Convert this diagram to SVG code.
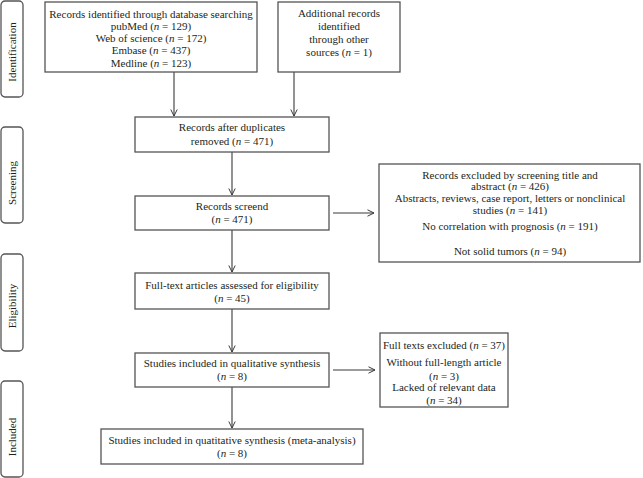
<svg xmlns="http://www.w3.org/2000/svg" width="643" height="478" viewBox="0 0 643 478">
<defs>
<marker id="ah" viewBox="0 0 8 8" refX="7.5" refY="4" markerWidth="8" markerHeight="8" markerUnits="userSpaceOnUse" orient="auto">
<path d="M1,0.8 L7.5,4 L1,7.2" fill="none" stroke="#3a3a3a" stroke-width="1"/>
</marker>
<style>
.box{fill:#fff;stroke:#555;stroke-width:1.3}
.side{fill:#fff;stroke:#555;stroke-width:1.3}
text{font-family:"Liberation Serif","Times New Roman",serif;font-size:11px;fill:#231f20;text-anchor:middle}
.c{stroke:#3a3a3a;stroke-width:1.1;fill:none;marker-end:url(#ah)}
</style>
</defs>
<rect width="643" height="478" fill="#fff"/>

<g id="side-identification"><rect class="side" x="1" y="1" width="22" height="96" rx="4"/><text transform="translate(15.5,52) rotate(-90)">Identification</text></g>
<g id="side-screening"><rect class="side" x="1" y="127" width="22" height="96" rx="4"/><text transform="translate(15.5,183) rotate(-90)">Screening</text></g>
<g id="side-eligibility"><rect class="side" x="1" y="254" width="22" height="97" rx="4"/><text transform="translate(15.5,306) rotate(-90)">Eligibility</text></g>
<g id="side-included"><rect class="side" x="1" y="381" width="22" height="96" rx="4"/><text transform="translate(15.5,437) rotate(-90)">Included</text></g>

<g id="connectors">
<line class="c" x1="174" y1="72" x2="174" y2="116"/>
<line class="c" x1="294" y1="72" x2="294" y2="116"/>
<line class="c" x1="232" y1="152" x2="232" y2="195"/>
<line class="c" x1="232" y1="230" x2="232" y2="272"/>
<line class="c" x1="232" y1="309" x2="232" y2="352"/>
<line class="c" x1="232" y1="387" x2="232" y2="428"/>
<line class="c" x1="333" y1="213" x2="374" y2="213"/>
<line class="c" x1="333" y1="370" x2="375" y2="370"/>
</g>

<g id="n-database"><rect class="box" x="45" y="2" width="212" height="70"/>
<text x="151" y="17.5">Records identified through database searching</text>
<text x="151" y="30">pubMed (<tspan font-style="italic">n</tspan> = 129)</text>
<text x="151" y="42">Web of science (<tspan font-style="italic">n</tspan> = 172)</text>
<text x="151" y="54">Embase (<tspan font-style="italic">n</tspan> = 437)</text>
<text x="151" y="66.5">Medline (<tspan font-style="italic">n</tspan> = 123)</text>
</g>

<g id="n-other"><rect class="box" x="278" y="2" width="122" height="70"/>
<text x="339" y="17">Additional records</text>
<text x="339" y="30">identified</text>
<text x="339" y="43">through other</text>
<text x="339" y="56">sources (<tspan font-style="italic">n</tspan> = 1)</text>
</g>

<g id="n-dup"><rect class="box" x="135" y="117" width="194" height="35"/>
<text x="232" y="131">Records after duplicates</text>
<text x="232" y="145">removed (<tspan font-style="italic">n</tspan> = 471)</text>
</g>

<g id="n-screened"><rect class="box" x="135" y="196" width="194" height="34"/>
<text x="232" y="210">Records screend</text>
<text x="232" y="223">(<tspan font-style="italic">n</tspan> = 471)</text>
</g>

<g id="n-fulltext"><rect class="box" x="135" y="273" width="194" height="36"/>
<text x="232" y="289">Full-text articles assessed for eligibility</text>
<text x="232" y="302">(<tspan font-style="italic">n</tspan> = 45)</text>
</g>

<g id="n-qual"><rect class="box" x="135" y="353" width="194" height="34"/>
<text x="232" y="367">Studies included in qualitative synthesis</text>
<text x="232" y="380">(<tspan font-style="italic">n</tspan> = 8)</text>
</g>

<g id="n-quant"><rect class="box" x="101" y="429" width="262" height="35"/>
<text x="232" y="444">Studies included in quatitative synthesis (meta-analysis)</text>
<text x="232" y="457">(<tspan font-style="italic">n</tspan> = 8)</text>
</g>

<g id="n-excluded"><rect class="box" x="379" y="164" width="261" height="98"/>
<text x="510" y="179">Records excluded by screening title and</text>
<text x="510" y="190">abstract (<tspan font-style="italic">n</tspan> = 426)</text>
<text x="510" y="202">Abstracts, reviews, case report, letters or nonclinical</text>
<text x="510" y="214">studies (<tspan font-style="italic">n</tspan> = 141)</text>
<text x="510" y="230">No correlation with prognosis (<tspan font-style="italic">n</tspan> = 191)</text>
<text x="510" y="255">Not solid tumors (<tspan font-style="italic">n</tspan> = 94)</text>
</g>

<g id="n-ftexcluded"><rect class="box" x="380" y="333" width="128" height="74"/>
<text x="444" y="349">Full texts excluded (<tspan font-style="italic">n</tspan> = 37)</text>
<text x="444" y="366">Without full-length article</text>
<text x="444" y="380">(<tspan font-style="italic">n</tspan> = 3)</text>
<text x="444" y="391">Lacked of relevant data</text>
<text x="444" y="404">(<tspan font-style="italic">n</tspan> = 34)</text>
</g>
</svg>
